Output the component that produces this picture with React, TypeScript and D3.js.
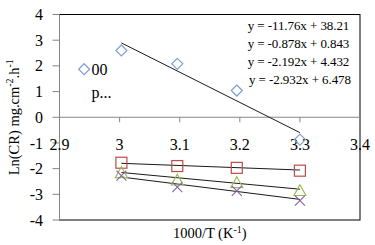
import React from "react";
import * as d3 from "d3";

// 1000/T values and Ln(CR) readings
const xA = [2.941, 3.003, 3.096, 3.195, 3.3];
const yA = [1.87, 2.6, 2.08, 1.04, -0.87];
const xB = [3.003, 3.096, 3.195, 3.3];
const yB = [-1.77, -1.9, -1.97, -2.08];
const yC = [-2.16, -2.45, -2.55, -2.86];
const yD = [-2.27, -2.72, -2.87, -3.25];

// trend lines: slope, intercept, fitted over 3.003 .. 3.3
const slopes = [-11.76, -0.878, -2.192, -2.932];
const intercepts = [38.21, 0.843, 4.432, 6.478];
const trendLabels = [
  "y = -11.76x + 38.21",
  "y = -0.878x + 0.843",
  "y = -2.192x + 4.432",
  "y = -2.932x + 6.478",
];

const xTicks = [2.9, 3, 3.1, 3.2, 3.3, 3.4];
const yTicks = [4, 3, 2, 1, 0, -1, -2, -3, -4];

const App = () => {
  const width = 375;
  const height = 245;
  const margin = { top: 14.5, right: 15, bottom: 25, left: 59.5 };
  const font = "'Liberation Serif', 'Times New Roman', serif";

  const x = d3.scaleLinear().domain([2.9, 3.4]).range([margin.left, width - margin.right]);
  const y = d3.scaleLinear().domain([-4, 4]).range([height - margin.bottom, margin.top]);

  const fmt = (v: number) => String(Math.round(v * 10) / 10);

  const diamond = (cx: number, cy: number, r = 5.5) =>
    `M${cx},${cy - r}L${cx + r},${cy}L${cx},${cy + r}L${cx - r},${cy}Z`;
  const triangle = (cx: number, cy: number, r = 5.5) =>
    `M${cx},${cy - r}L${cx + r},${cy + r * 0.8}L${cx - r},${cy + r * 0.8}Z`;
  const cross = (cx: number, cy: number, r = 5) =>
    `M${cx - r},${cy - r}L${cx + r},${cy + r}M${cx + r},${cy - r}L${cx - r},${cy + r}`;

  const [x0, x1] = [xB[0], xB[xB.length - 1]];
  const [plotL, plotR] = x.range();
  const [plotB, plotT] = y.range();

  return (
    <svg
      width={width}
      height={height}
      style={{ position: "absolute", left: 0, top: 0, background: "white" }}
      fontFamily={font}
    >
      {/* plot frame */}
      <rect x={plotL} y={plotT} width={plotR - plotL} height={plotB - plotT} fill="none" stroke="#000" strokeWidth={1} />

      {/* y axis */}
      <line x1={plotL} x2={plotL} y1={plotT} y2={plotB} stroke="#868686" />
      {yTicks.map((t) => (
        <g key={"y" + t}>
          <line x1={plotL - 7} x2={plotL} y1={y(t)} y2={y(t)} stroke="#868686" />
          <text x={43} y={y(t)} dy="0.35em" textAnchor="end" fontSize={16}>
            {String(t)}
          </text>
        </g>
      ))}

      {/* x axis at y = 0 */}
      <line x1={plotL} x2={plotR} y1={y(0)} y2={y(0)} stroke="#868686" />
      {xTicks.map((t) => (
        <g key={"x" + t}>
          <line x1={x(t)} x2={x(t)} y1={y(0)} y2={y(0) + 5} stroke="#868686" />
          <text x={x(t)} y={150} textAnchor="middle" fontSize={16}>
            {fmt(t)}
          </text>
        </g>
      ))}

      {/* trend lines */}
      {slopes.map((m, i) => (
        <line
          key={"t" + i}
          x1={x(x0)}
          x2={x(x1)}
          y1={y(m * x0 + intercepts[i])}
          y2={y(m * x1 + intercepts[i])}
          stroke="#1a1a1a"
          strokeWidth={1}
        />
      ))}

      {/* series markers */}
      {xA.map((v, i) => (
        <path key={"a" + i} d={diamond(x(v), y(yA[i]))} fill="none" stroke="#7f9fd3" strokeWidth={1.2} />
      ))}
      {xB.map((v, i) => (
        <rect key={"b" + i} x={x(v) - 5.5} y={y(yB[i]) - 5.5} width={11} height={11} fill="none" stroke="#be4b48" strokeWidth={1.2} />
      ))}
      {xB.map((v, i) => (
        <path key={"c" + i} d={triangle(x(v), y(yC[i]), 6)} fill="none" stroke="#9bbb59" strokeWidth={1.2} />
      ))}
      {xB.map((v, i) => (
        <path key={"d" + i} d={cross(x(v), y(yD[i]))} fill="none" stroke="#8064a2" strokeWidth={1.1} />
      ))}

      {/* stray data labels */}
      <text x={91.5} y={75} fontSize={16}>00</text>
      <text x={91.5} y={98} fontSize={16}>p...</text>

      {/* equations */}
      {trendLabels.map((s, i) => (
        <text
          key={"e" + i}
          x={i === 3 ? 249 : 247.7}
          y={29.5 + i * 18}
          fontSize={13}
          textLength={i === 3 ? 102 : 101.6}
          lengthAdjust="spacing"
        >
          {s}
        </text>
      ))}

      {/* axis titles */}
      <text x={(plotL + plotR) / 2} y={238} textAnchor="middle" fontSize={14.5}>
        1000/T (K<tspan dy={-5.5} fontSize={10}>-1</tspan>
        <tspan dy={5.5}>)</tspan>
      </text>
      <text transform={`translate(18.5,${(plotT + plotB) / 2}) rotate(-90)`} textAnchor="middle" fontSize={14.5}>
        Ln(CR) mg.cm<tspan dy={-5.5} fontSize={10}>-2</tspan>
        <tspan dy={5.5}>.h</tspan>
        <tspan dy={-5.5} fontSize={10}>-1</tspan>
      </text>
    </svg>
  );
};

export default App;
